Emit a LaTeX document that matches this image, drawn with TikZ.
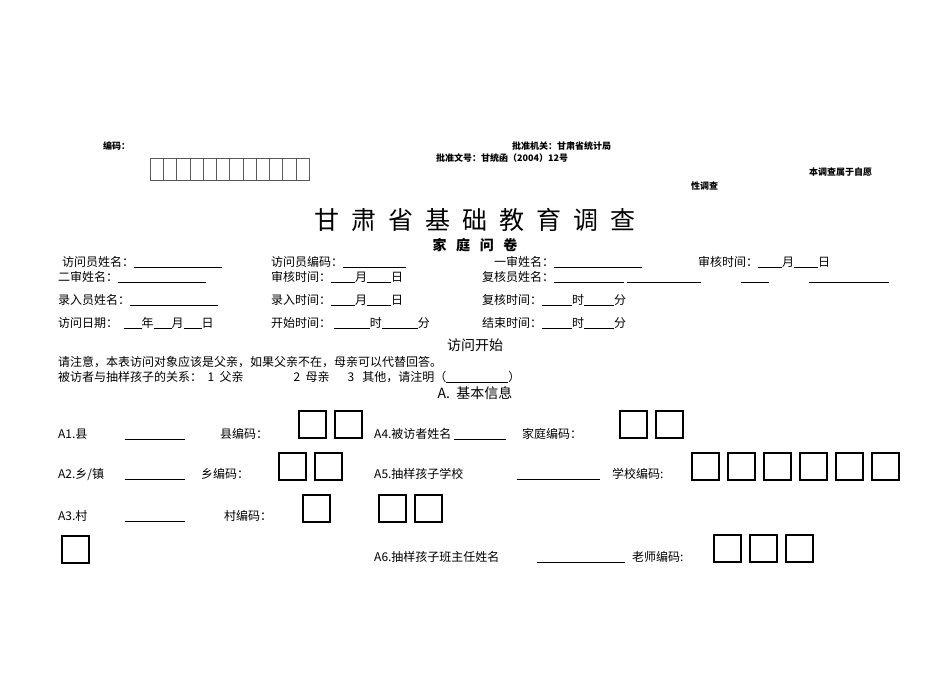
\documentclass[tikz,border=0pt]{standalone}
\usepackage{fontspec}
\newfontfamily\cjk{Noto Sans CJK SC}
\begin{document}
\begin{tikzpicture}[x=1pt,y=-1pt,
  t/.style={anchor=base west,inner sep=0pt,font=\cjk\fontsize{12}{12}\selectfont},
  sm/.style={anchor=base west,inner sep=0pt,font=\cjk\fontsize{9}{9}\selectfont\bfseries},
  bx/.style={draw,line width=1.6pt,minimum width=27pt,minimum height=27pt,inner sep=0pt,anchor=north west}]
\useasboundingbox (0,0) rectangle (950,672);
\node[sm] (bm) at (103,149) {编码：};
\foreach \i in {0,...,11}{\draw[gray!70!black] (150+\i*13.25,158) rectangle (163.25+\i*13.25,180);}
\node[sm] (pj) at (512,149) {批准机关：甘肃省统计局};
\node[sm] (pw) at (436,161) {批准文号：甘统函（2004）12号};
\node[sm] (zy) at (809,175) {本调查属于自愿};
\node[sm] (xd) at (691,189) {性调查};
\node[anchor=base,inner sep=0pt,font=\cjk\fontsize{25}{25}\selectfont] (title) at (475,229) {甘\hspace{12pt}肃\hspace{12pt}省\hspace{12pt}基\hspace{12pt}础\hspace{12pt}教\hspace{12pt}育\hspace{12pt}调\hspace{12pt}查};
\node[anchor=base,inner sep=0pt,font=\cjk\fontsize{14}{14}\selectfont\bfseries] (sub) at (475,250) {家\ \ \ 庭\ \ \ 问\ \ \ 卷};
\node[t] (r1a) at (62,266) {访问员姓名：\underline{\hspace{88pt}}};
\node[t] (r1b) at (271,266) {访问员编码：\underline{\hspace{63pt}}};
\node[t] (r1c) at (494,266) {一审姓名：\underline{\hspace{88pt}}};
\node[t] (r1d) at (698,266) {审核时间：\underline{\hspace{24pt}}月\underline{\hspace{24pt}}日};
\node[t] (r2a) at (58,281) {二审姓名：\underline{\hspace{88pt}}};
\node[t] (r2b) at (271,281) {审核时间：\underline{\hspace{24pt}}月\underline{\hspace{24pt}}日};
\node[t] (r2c) at (482,281) {复核员姓名：\underline{\hspace{70pt}}\ \underline{\hspace{74pt}}\hspace{40pt}\underline{\hspace{28pt}}\hspace{40pt}\underline{\hspace{80pt}}};
\node[t] (r3a) at (58,304) {录入员姓名：\underline{\hspace{88pt}}};
\node[t] (r3b) at (271,304) {录入时间：\underline{\hspace{24pt}}月\underline{\hspace{24pt}}日};
\node[t] (r3c) at (482,304) {复核时间：\underline{\hspace{30pt}}时\underline{\hspace{30pt}}分};
\node[t] (r4a) at (58,327) {访问日期：\ \ \underline{\hspace{18pt}}年\underline{\hspace{18pt}}月\underline{\hspace{18pt}}日};
\node[t] (r4b) at (271,327) {开始时间：\ \underline{\hspace{36pt}}时\underline{\hspace{36pt}}分};
\node[t] (r4c) at (482,327) {结束时间：\underline{\hspace{30pt}}时\underline{\hspace{30pt}}分};
\node[anchor=base,inner sep=0pt,font=\cjk\fontsize{14}{14}\selectfont] (fs) at (475,350) {访问开始};
\node[t] (zy1) at (58,366) {请注意，本表访问对象应该是父亲，如果父亲不在，母亲可以代替回答。};
\node[t] (gx) at (58,381) {被访者与抽样孩子的关系：\ \ 1\ \ 父亲\hspace{50pt}2\ \ 母亲\hspace{18pt}3\ \ \ 其他，请注明（\underline{\hspace{62pt}}）};
\node[anchor=base,inner sep=0pt,font=\cjk\fontsize{14}{14}\selectfont] (A) at (475,398) {A.\ \ 基本信息};
\node[t] (a1) at (58,438) {A1.县};
\node[t] (a1l) at (125,438) {\underline{\hspace{60pt}}};
\node[t] (a1c) at (220,438) {县编码：};
\node[bx] (b1) at (298,410) {}; \node[bx] (b2) at (334,410) {};
\node[t] (a4) at (374,438) {A4.被访者姓名\ \underline{\hspace{52pt}}\hspace{16pt}家庭编码：};
\node[bx] (b3) at (619,410) {}; \node[bx] (b4) at (655,410) {};
\node[t] (a2) at (58,478) {A2.乡/镇};
\node[t] (a2l) at (125,478) {\underline{\hspace{60pt}}};
\node[t] (a2c) at (201,478) {乡编码：};
\node[bx] (b5) at (278,452) {}; \node[bx] (b6) at (314,452) {};
\node[t] (a5) at (374,478) {A5.抽样孩子学校};
\node[t] (a5l) at (517,478) {\underline{\hspace{83pt}}};
\node[t] (a5c) at (612,478) {学校编码:};
\foreach \i in {0,...,5}{\node[bx] (s\i) at (691+\i*36,452) {};}
\node[t] (a3) at (58,520) {A3.村};
\node[t] (a3l) at (125,520) {\underline{\hspace{60pt}}};
\node[t] (a3c) at (224,520) {村编码：};
\node[bx] (b7) at (302,494) {};
\node[bx] (b8) at (378,494) {}; \node[bx] (b9) at (414,494) {};
\node[bx] (b10) at (61,535) {};
\node[t] (a6) at (374,561) {A6.抽样孩子班主任姓名};
\node[t] (a6l) at (537,561) {\underline{\hspace{88pt}}};
\node[t] (a6c) at (632,561) {老师编码:};
\foreach \i in {0,...,2}{\node[bx] (t\i) at (713+\i*36,534) {};}
\end{tikzpicture}
\end{document}
